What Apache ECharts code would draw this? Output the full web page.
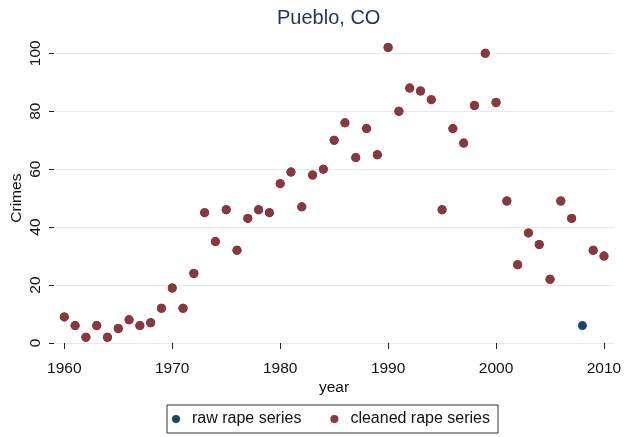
<!DOCTYPE html>
<html>
<head>
<meta charset="utf-8">
<script src="https://cdn.jsdelivr.net/npm/echarts@6/dist/echarts.min.js"></script>
<style>html,body{margin:0;padding:0;background:#fff}#c{width:625px;height:437px}</style>
</head>
<body>
<div id="c"></div>
<script>
const years = [1960,1961,1962,1963,1964,1965,1966,1967,1968,1969,
  1970,1971,1972,1973,1974,1975,1976,1977,1978,1979,
  1980,1981,1982,1983,1984,1985,1986,1987,1988,1989,
  1990,1991,1992,1993,1994,1995,1996,1997,1998,1999,
  2000,2001,2002,2003,2004,2005,2006,2007,2008,2009,2010];
const rawRape = [9,6,2,6,2,5,8,6,7,12,
  19,12,24,45,35,46,32,43,46,45,
  55,59,47,58,60,70,76,64,74,65,
  102,80,88,87,84,46,74,69,82,100,
  83,49,27,38,34,22,49,43,6,32,30];
const cleanedRape = [9,6,2,6,2,5,8,6,7,12,
  19,12,24,45,35,46,32,43,46,45,
  55,59,47,58,60,70,76,64,74,65,
  102,80,88,87,84,46,74,69,82,100,
  83,49,27,38,34,22,49,43,null,32,30];
const xTicks = [1960,1970,1980,1990,2000,2010];
const yTicks = [0,20,40,60,80,100];

const pairs = arr => years.map((y,i) => arr[i] == null ? null : [y, arr[i]]).filter(d => d);
const FONT = '"Liberation Sans", Arial, Helvetica, sans-serif';

const chart = echarts.init(document.getElementById('c'), null, {renderer:'canvas'});
chart.setOption({
  backgroundColor: '#ffffff',
  animation: false,
  title: {
    text: 'Pueblo, CO', left: 277, top: 8, padding: 0,
    textStyle: {fontFamily: FONT, fontSize: 20, fontWeight: 'normal', color: '#1f345c'}
  },
  legend: {
    left: 167, top: 405,
    padding: [6, 8, 6, 5],
    itemGap: 29,
    itemWidth: 8, itemHeight: 8,
    borderColor: '#333', borderWidth: 1, borderRadius: 0,
    textStyle: {fontFamily: FONT, fontSize: 16, color: '#111', padding: [0,0,0,7]},
    data: [
      {name: 'raw rape series', icon: 'circle', itemStyle: {opacity: 1}},
      {name: 'cleaned rape series', icon: 'circle', itemStyle: {opacity: 1}}
    ]
  },
  grid: {left: 54, right: 11, top: 53.3, bottom: 94, containLabel: false, outerBoundsMode: 'none'},
  xAxis: {
    type: 'value', min: 1959.045, max: 2010.927,
    offset: 10,
    name: 'year', nameLocation: 'middle', nameGap: 27, nameMoveOverlap: false,
    nameTextStyle: {fontFamily: FONT, fontSize: 15.5, color: '#111'},
    axisLine: {show: false},
    axisTick: {show: true, length: 6, customValues: xTicks, lineStyle: {color: '#222', width: 1}},
    axisLabel: {customValues: xTicks, formatter: v => String(Math.round(v)), fontFamily: FONT, fontSize: 15.5, color: '#111', margin: 8},
    splitLine: {show: false}
  },
  yAxis: {
    type: 'value', min: 0, max: 100, interval: 20,
    name: 'Crimes', nameLocation: 'middle', nameGap: 29, nameMoveOverlap: false,
    nameTextStyle: {fontFamily: FONT, fontSize: 15.5, color: '#111'},
    axisLine: {show: false},
    axisTick: {show: true, length: 5, lineStyle: {color: '#222', width: 1}},
    axisLabel: {rotate: 90, formatter: v => String(v), fontFamily: FONT, fontSize: 15.5, color: '#111', margin: 10},
    splitLine: {show: true, lineStyle: {color: '#e3ebed', width: 1.2}}
  },
  series: [
    {
      name: 'raw rape series', type: 'scatter', clip: false,
      symbol: 'circle', symbolSize: 9,
      itemStyle: {color: '#1a476f', opacity: 1},
      data: pairs(rawRape)
    },
    {
      name: 'cleaned rape series', type: 'scatter', clip: false,
      symbol: 'circle', symbolSize: 9,
      itemStyle: {color: '#90353b', opacity: 1},
      data: pairs(cleanedRape)
    }
  ]
});
</script>
</body>
</html>
